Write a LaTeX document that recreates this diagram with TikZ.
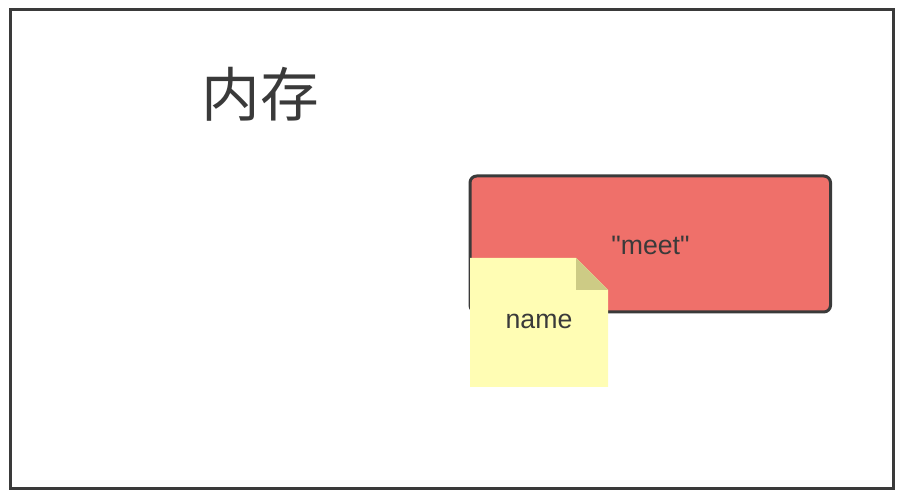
\documentclass[tikz,border=0pt]{standalone}
\usepackage{fontspec}
\newfontfamily\labelfont{Liberation Sans}
\newfontfamily\cjk{Noto Sans CJK SC}
\definecolor{inkgray}{HTML}{3A3A3A}
\definecolor{boxred}{HTML}{EF706A}
\definecolor{noteyellow}{HTML}{FFFDB4}
\definecolor{notefold}{HTML}{CDCB85}
\begin{document}
\begin{tikzpicture}[x=0.75pt,y=-0.75pt,
    frame/.style={draw=inkgray, line width=2.25pt},
    label/.style={text=inkgray, font=\labelfont\fontsize{20}{24}\selectfont, inner sep=0pt}]
    \useasboundingbox (0,0) rectangle (902,498);
    %Speicher
    \draw[frame] (10.5,10) rectangle (893.5,488.5);
    \node[text=inkgray, font=\cjk\fontsize{44}{50}\selectfont, inner sep=0pt] (title) at (260,94) {内存};
    %Wert
    \draw[frame, fill=boxred, rounded corners=5pt] (470,176) rectangle (830.5,312);
    \node[label] (value) at (650.5,245) {"meet"};
    %Zettel
    \fill[noteyellow] (470,258) -- (576,258) -- (608,290) -- (608,387) -- (470,387) -- cycle;
    \fill[notefold] (576,258) -- (608,290) -- (576,290) -- cycle;
    \node[label] (name) at (539,321) {name};
\end{tikzpicture}
\end{document}
